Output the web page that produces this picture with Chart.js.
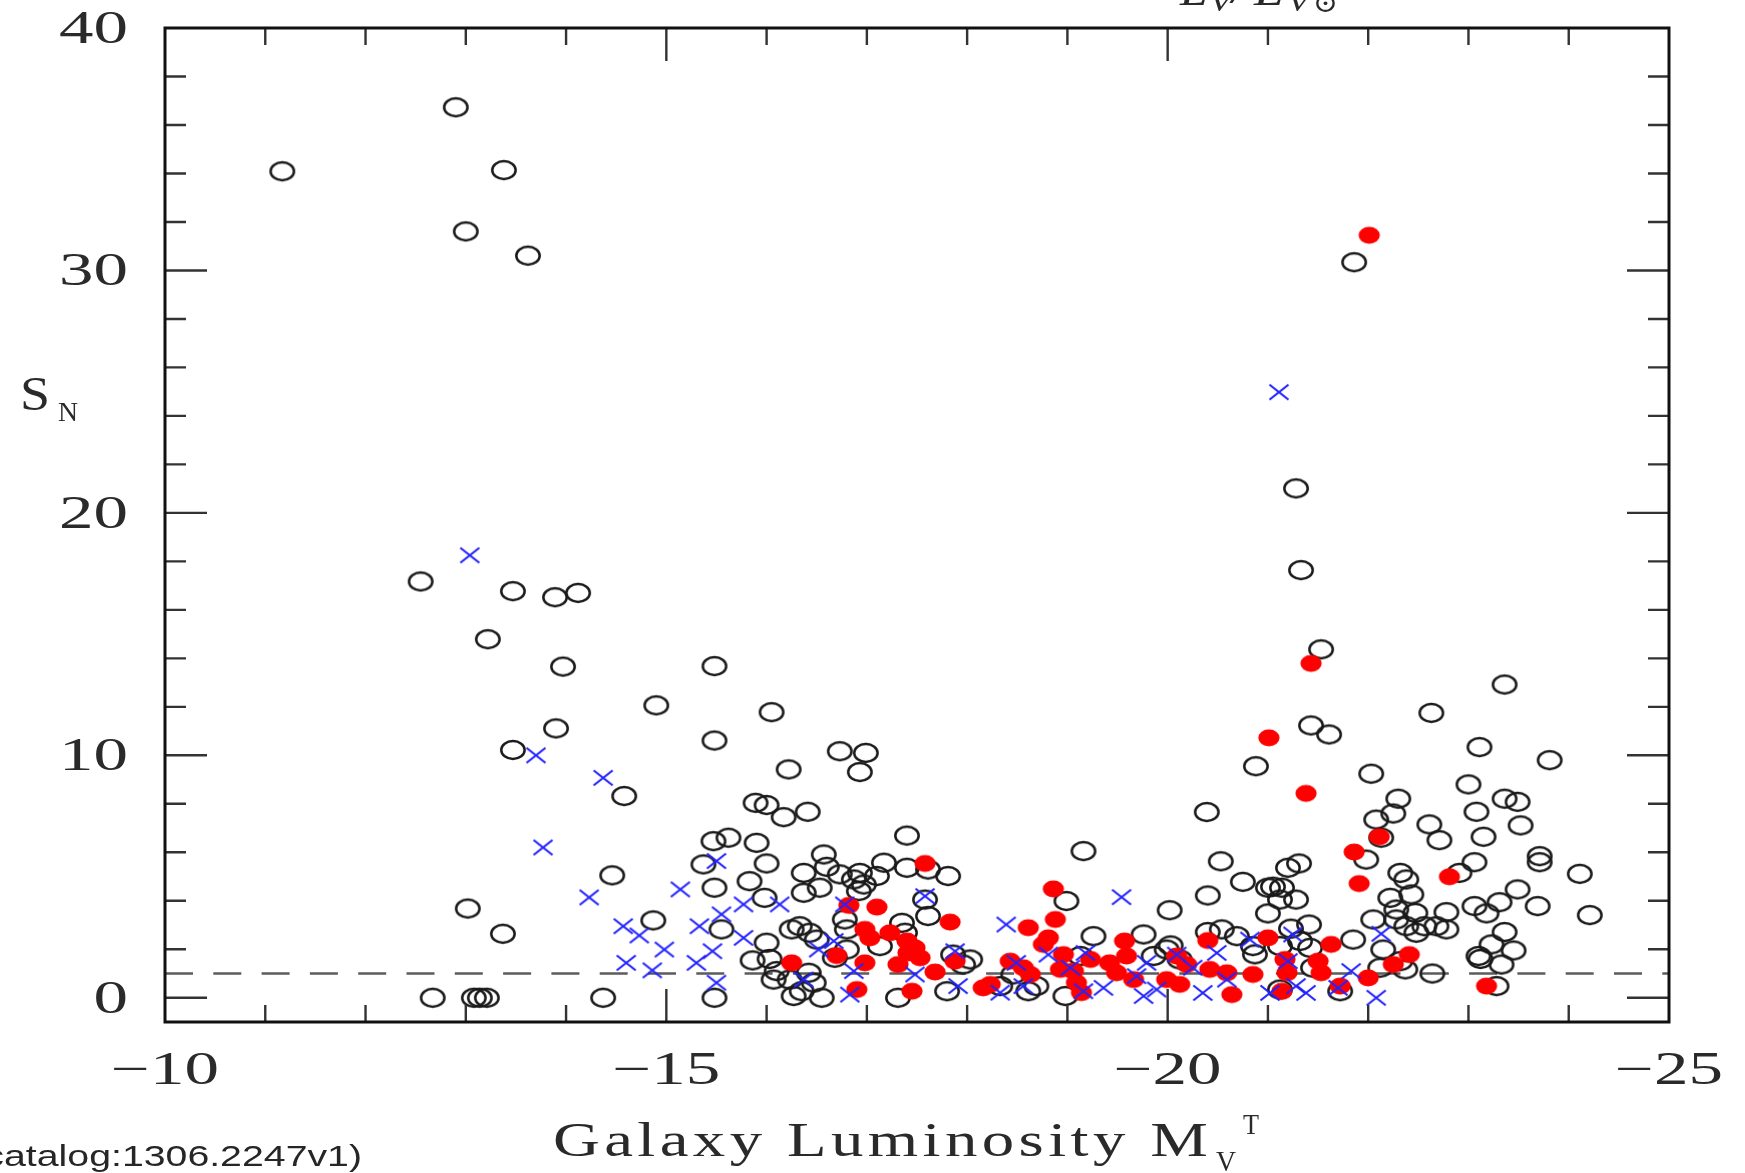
<!DOCTYPE html>
<html>
<head>
<meta charset="utf-8">
<script src="https://cdn.jsdelivr.net/npm/chart.js@4.4.0/dist/chart.umd.min.js"></script>
<style>
  html, body { margin: 0; padding: 0; background: #fff; }
</style>
</head>
<body>
<canvas id="sn-chart" width="1745" height="1173"></canvas>
<script>
// Specific frequency S_N against total V magnitude

// open circles
const openMag = [
  -11.17, -12.90, -13.38, -13.00, -13.62, -21.86, -21.28, -21.33,
  -12.55, -13.47, -13.89, -14.12, -13.22, -13.97, -13.90, -13.47, -14.46, -13.02, -13.37,
  -12.67, -13.08, -13.14, -13.21, -14.37,
  -15.48, -14.90, -16.05, -15.48, -16.22, -16.73, -16.99, -16.93, -14.58, -15.89, -16.00,
  -16.17, -16.41, -15.47, -15.62, -15.90, -15.37, -16.00, -15.48, -15.83, -15.98, -16.37,
  -16.57, -16.60, -16.37, -16.53, -16.73, -16.87, -16.93, -16.97, -16.92, -17.17, -17.10,
  -17.40, -17.40, -17.81, -17.61, -14.87, -15.55, -16.00, -15.86, -16.03, -16.10, -16.25,
  -16.33, -16.43, -16.50, -16.23, -16.27, -16.35, -16.47, -16.55, -16.42, -16.07, -16.78,
  -16.80, -16.80, -16.68, -17.35, -17.38, -17.13, -17.61, -17.58, -17.31, -17.80, -17.86,
  -18.03, -17.96, -18.61, -18.46, -18.69, -18.99, -19.16, -19.26, -18.98, -19.13, -15.48,
  -18.33,
  -21.53, -21.43, -21.61, -20.88, -22.03, -22.63, -23.36, -23.11, -23.81, -23.00, -23.08,
  -23.36, -23.49, -23.52, -23.15, -22.61, -22.71, -22.30, -22.25, -22.08, -22.13, -23.06,
  -23.71, -23.71, -24.11, -24.21, -23.69, -23.49, -23.31, -23.06, -23.18, -23.36, -23.23,
  -23.45, -23.10, -23.12, -23.33, -23.28, -22.64, -22.78, -22.78, -22.56, -22.47, -22.28,
  -22.32, -22.38, -22.43, -22.22, -22.28, -22.38, -22.48, -22.68, -22.91, -21.98, -21.85,
  -22.05, -22.15, -22.32, -22.37, -22.12, -21.41, -21.31, -21.20, -21.28, -21.05, -21.14,
  -21.00, -21.12, -21.00, -20.75, -20.53, -20.40, -20.39, -20.02, -19.76, -20.54, -20.69,
  -20.85, -21.12, -21.32, -21.42, -19.99, -20.12, -19.86, -21.72, -21.12, -21.45,
  -20.03, -20.40, -20.87, -21.23
];
const openSn = [
  34.09, 36.73, 34.14, 31.61, 30.61, 30.34, 21.01, 17.64,
  17.17, 16.77, 16.52, 16.70, 14.79, 13.66, 11.11, 10.22, 5.05, 3.68, 2.64,
  0.00, 0.00, 0.00, 0.00, 0.00,
  13.68, 12.06, 11.78, 10.61, 9.42, 10.17, 10.10, 9.31, 8.32, 8.04, 7.95,
  7.45, 7.67, 6.46, 6.60, 6.39, 5.50, 5.54, 4.54, 4.81, 4.12, 5.15,
  5.91, 5.40, 4.33, 4.54, 5.09, 4.88, 5.15, 4.67, 4.40, 5.57, 5.02,
  6.69, 5.36, 5.02, 5.29, 3.19, 2.82, 2.27, 1.54, 1.60, 1.10, 2.82,
  2.95, 2.68, 2.40, 0.75, 0.07, 0.27, 0.62, 0.00, 1.03, 0.75, 3.23,
  2.82, 1.99, 1.65, 3.09, 2.68, 2.13, 3.37, 4.05, 0.00, 0.27, 1.78,
  1.58, 1.37, 0.27, 0.96, 0.48, 3.99, 6.05, 2.54, 0.07, 1.72, 0.00,
  0.48,
  14.37, 11.23, 10.86, 9.55, 9.24, 11.75, 12.92, 10.34, 9.80, 8.80, 7.67,
  8.21, 8.08, 7.11, 6.64, 7.15, 6.50, 8.21, 7.60, 7.35, 6.60, 5.59,
  5.84, 5.59, 5.11, 3.41, 3.78, 4.47, 3.94, 3.78, 3.48, 2.71, 2.20,
  1.95, 1.72, 1.60, 1.37, 0.48, 1.00, 3.53, 2.82, 2.95, 3.50, 3.64,
  5.15, 4.88, 4.26, 4.12, 3.23, 2.95, 2.68, 2.95, 5.15, 5.70, 2.40,
  3.23, 1.99, 1.51, 1.17, 1.24, 3.02, 5.54, 5.36, 4.05, 4.58, 4.54,
  4.54, 4.05, 3.48, 4.78, 5.63, 4.22, 7.66, 3.61, 2.61, 2.82, 2.54,
  2.13, 2.13, 2.34, 2.06, 1.99, 1.58, 1.72, 0.27, 0.34, 1.24,
  2.16, 2.71, 1.79, 2.85
];

// filled red points
const redMag = [
  -17.58, -16.82, -17.10, -17.83, -16.98, -17.03, -17.23, -17.40, -17.48, -17.41, -17.53,
  -17.31, -16.25, -16.70, -16.98, -17.68, -16.90, -17.45, -17.88, -18.16, -18.23, -18.86,
  -18.88, -18.61, -18.81, -18.76, -18.96, -18.43, -18.56, -18.63, -19.06, -19.09, -19.14,
  -18.93, -19.23,
  -21.43, -21.01, -21.38, -22.11, -21.86, -21.91, -22.81, -19.57, -20.40, -21.00, -21.63,
  -22.41, -22.25, -22.00, -23.18, -19.42, -19.59, -19.49, -19.66, -20.09, -20.19, -20.12,
  -19.99, -20.42, -20.59, -20.64, -20.85, -21.17, -21.19, -21.14, -21.50, -21.53, -21.72,
  -22.01
];
const redSn = [
  5.54, 3.81, 3.74, 3.12, 2.82, 2.47, 2.68, 2.34, 2.06, 1.85, 1.65,
  1.37, 1.44, 1.74, 1.44, 1.06, 0.34, 0.27, 1.51, 0.41, 0.55, 4.49,
  3.23, 2.89, 2.47, 2.20, 1.78, 1.51, 1.24, 0.96, 1.10, 0.62, 0.21,
  1.17, 1.58,
  13.79, 10.72, 8.43, 6.64, 6.01, 4.71, 4.99, 2.34, 2.36, 2.47, 2.20,
  1.78, 1.37, 0.82, 0.48, 1.44, 1.72, 1.03, 0.75, 1.72, 1.37, 0.55,
  0.75, 1.17, 1.03, 0.13, 0.96, 1.58, 1.03, 0.27, 1.51, 1.03, 0.48,
  31.45
];

// blue crosses
const crossMag = [
  -13.04, -13.70, -14.37, -13.77, -14.23,
  -15.50, -15.14, -15.77, -16.13, -15.55, -14.57, -14.73, -15.33, -15.77, -14.98, -15.46,
  -14.60, -14.86, -15.30, -15.50, -16.78, -17.58, -16.67, -16.52, -16.87, -16.37, -16.83,
  -17.48, -17.88, -17.91, -18.39, -18.33, -18.49, -18.56, -18.81, -19.03, -19.16, -19.18,
  -19.54, -22.13, -21.25, -20.82, -20.49, -20.09, -19.79, -19.69, -19.36, -19.76, -19.89,
  -20.35, -20.59, -21.02, -21.20, -21.28, -21.38, -21.70, -21.83, -22.08, -20.25, -21.11
];
const crossSn = [
  18.25, 10.00, 9.07, 6.20, 4.14,
  5.64, 4.47, 3.85, 3.85, 3.44, 2.95, 2.57, 2.95, 2.47, 1.99, 1.92,
  1.44, 1.13, 1.44, 0.62, 3.85, 4.19, 2.34, 1.99, 1.10, 0.75, 0.13,
  0.96, 1.92, 0.48, 3.02, 0.21, 1.44, 0.48, 1.78, 1.24, 0.27, 1.85,
  4.15, 2.64, 2.61, 2.40, 1.85, 1.78, 1.44, 0.89, 0.41, 0.07, 0.34,
  0.20, 0.75, 0.20, 1.51, 0.48, 0.20, 0.41, 1.10, 0.00, 1.24, 24.98
];

// dashed S_N = 1 reference
const refMag = [-10, -25];
const refSn = [1, 1];

const xTickLabels = [-10, -15, -20, -25];
const yTickLabels = [0, 10, 20, 30, 40];

function pairs(xs, ys) {
  return xs.map((v, i) => ({ x: v, y: ys[i] }));
}

// marker sprites (the plot's symbols are a little wider than tall)
function sprite(w, h, paint) {
  const c = document.createElement('canvas');
  c.width = w;
  c.height = h;
  paint(c.getContext('2d'), w / 2, h / 2);
  return c;
}
const ringMark = sprite(30, 24, (g, cx, cy) => {
  g.strokeStyle = '#1a1a1a';
  g.lineWidth = 2.5;
  g.beginPath();
  g.ellipse(cx, cy, 11.7, 8.9, 0, 0, Math.PI * 2);
  g.stroke();
});
const dotMark = sprite(24, 20, (g, cx, cy) => {
  g.fillStyle = '#ff0000';
  g.beginPath();
  g.ellipse(cx, cy, 10.6, 8.4, 0, 0, Math.PI * 2);
  g.fill();
});
const crossMark = sprite(24, 20, (g, cx, cy) => {
  g.strokeStyle = 'rgb(35,35,255)';
  g.lineWidth = 2.2;
  g.beginPath();
  g.moveTo(cx - 9.5, cy - 7.5);
  g.lineTo(cx + 9.5, cy + 7.5);
  g.moveTo(cx + 9.5, cy - 7.5);
  g.lineTo(cx - 9.5, cy + 7.5);
  g.stroke();
});

const minus = v => (v < 0 ? '\u2212' + Math.abs(v) : String(v));

// text squeezed/stretched into a horizontal span
function textSpan(ctx, str, left, right, baseline, font) {
  ctx.save();
  ctx.font = font;
  const w = ctx.measureText(str).width;
  ctx.translate(left, baseline);
  ctx.scale((right - left) / w, 1);
  ctx.textAlign = 'left';
  ctx.textBaseline = 'alphabetic';
  ctx.fillText(str, 0, 0);
  ctx.restore();
}
function textWide(ctx, str, x, baseline, font, sx, align) {
  ctx.save();
  ctx.font = font;
  const w = ctx.measureText(str).width * sx;
  const left = align === 'center' ? x - w / 2 : align === 'right' ? x - w : x;
  ctx.translate(left, baseline);
  ctx.scale(sx, 1);
  ctx.textAlign = 'left';
  ctx.textBaseline = 'alphabetic';
  ctx.fillText(str, 0, 0);
  ctx.restore();
}
function textSpaced(ctx, str, left, right, baseline, font, sx) {
  ctx.save();
  ctx.font = font;
  ctx.letterSpacing = '0px';
  const w0 = ctx.measureText(str).width;
  const gap = ((right - left) / sx - w0) / (str.length - 1);
  ctx.letterSpacing = gap.toFixed(2) + 'px';
  ctx.translate(left, baseline);
  ctx.scale(sx, 1);
  ctx.textAlign = 'left';
  ctx.textBaseline = 'alphabetic';
  ctx.fillText(str, 0, 0);
  ctx.restore();
}

const framePlugin = {
  id: 'framePlugin',
  afterDatasetsDraw(chart) {
    const { ctx, chartArea: a, scales: { x, y } } = chart;
    ctx.save();

    // inward tick marks on all four sides
    ctx.strokeStyle = '#333';
    ctx.lineWidth = 2.4;
    ctx.beginPath();
    for (let v = Math.ceil(x.min) + 1; v < x.max; v += 1) {
      const px = x.getPixelForValue(v);
      const len = v % 5 === 0 ? 33 : 17;
      ctx.moveTo(px, a.bottom);
      ctx.lineTo(px, a.bottom - len);
      ctx.moveTo(px, a.top);
      ctx.lineTo(px, a.top + len);
    }
    for (let v = 0; v < y.max; v += 2) {
      const py = y.getPixelForValue(v);
      const len = v % 10 === 0 ? 42 : 21;
      ctx.moveTo(a.left, py);
      ctx.lineTo(a.left + len, py);
      ctx.moveTo(a.right, py);
      ctx.lineTo(a.right - len, py);
    }
    ctx.stroke();

    // box
    ctx.strokeStyle = '#111';
    ctx.lineWidth = 3;
    ctx.strokeRect(a.left, a.top, a.right - a.left, a.bottom - a.top);

    // tick labels
    ctx.fillStyle = '#2a2a2a';
    const tickFont = '46px "Liberation Serif", "DejaVu Serif", serif';
    xTickLabels.forEach(v => {
      textWide(ctx, minus(v), x.getPixelForValue(v), 1084, tickFont, 1.5, 'center');
    });
    yTickLabels.forEach(v => {
      textWide(ctx, minus(v), 128, y.getPixelForValue(v) + 15, tickFont, 1.5, 'right');
    });

    // axis titles
    const titleFont = '48px "Liberation Serif", "DejaVu Serif", serif';
    const subFont = '29px "Liberation Serif", "DejaVu Serif", serif';
    textSpaced(ctx, 'Galaxy Luminosity M', 553, 1208, 1156, titleFont, 1.35);
    textSpan(ctx, 'V', 1216, 1236, 1171, subFont);
    textSpan(ctx, 'T', 1243, 1259, 1134, subFont);
    textSpan(ctx, 'S', 20, 50, 410, '48px "Liberation Serif", "DejaVu Serif", serif');
    textSpan(ctx, 'N', 58, 78, 421, '28px "Liberation Serif", "DejaVu Serif", serif');

    // bottom of a heading cut by the top edge
    const it = 'italic 46px "Liberation Serif", "DejaVu Serif", serif';
    const itSub = 'italic 30px "Liberation Serif", "DejaVu Serif", serif';
    textSpan(ctx, 'L', 1180, 1208, 5, it);
    textSpan(ctx, 'V', 1209, 1232, 11, itSub);
    textSpan(ctx, '/', 1232, 1248, 3, it);
    textSpan(ctx, 'L', 1254, 1284, 5, it);
    textSpan(ctx, 'V', 1287, 1310, 11, itSub);
    textSpan(ctx, '\u2299', 1313, 1338, 12, '28px "DejaVu Serif", serif');

    // source note, clipped by the left edge
    ctx.fillStyle = '#262626';
    const note = '(catalog:1306.2247v1)';
    const noteFont = '30px "Liberation Sans", Arial, sans-serif';
    ctx.font = noteFont;
    const wAll = ctx.measureText(note).width;
    const wHead = ctx.measureText('(c').width;
    const sx = (362 - 4) / (wAll - wHead);
    textWide(ctx, note, 4 - wHead * sx, 1166, noteFont, sx, 'left');

    ctx.restore();
  }
};

new Chart(document.getElementById('sn-chart'), {
  type: 'scatter',
  data: {
    datasets: [
      {
        label: 'S_N = 1',
        data: pairs(refMag, refSn),
        showLine: true,
        borderColor: '#5c5c5c',
        borderWidth: 2.6,
        borderDash: [28, 20.3],
        pointRadius: 0,
        order: 3
      },
      {
        label: 'open',
        data: pairs(openMag, openSn),
        pointStyle: ringMark,
        pointRadius: 10,
        order: 2
      },
      {
        label: 'filled',
        data: pairs(redMag, redSn),
        pointStyle: dotMark,
        pointRadius: 10,
        order: 1
      },
      {
        label: 'cross',
        data: pairs(crossMag, crossSn),
        pointStyle: crossMark,
        pointRadius: 10,
        order: 0
      }
    ]
  },
  options: {
    responsive: false,
    animation: false,
    events: [],
    layout: { padding: { left: 165, top: 28, right: 76, bottom: 151 } },
    scales: {
      x: { type: 'linear', min: -25, max: -10, reverse: true, display: false },
      y: { type: 'linear', min: -1, max: 40, display: false }
    },
    plugins: {
      legend: { display: false },
      tooltip: { enabled: false }
    }
  },
  plugins: [framePlugin]
});
</script>
</body>
</html>
